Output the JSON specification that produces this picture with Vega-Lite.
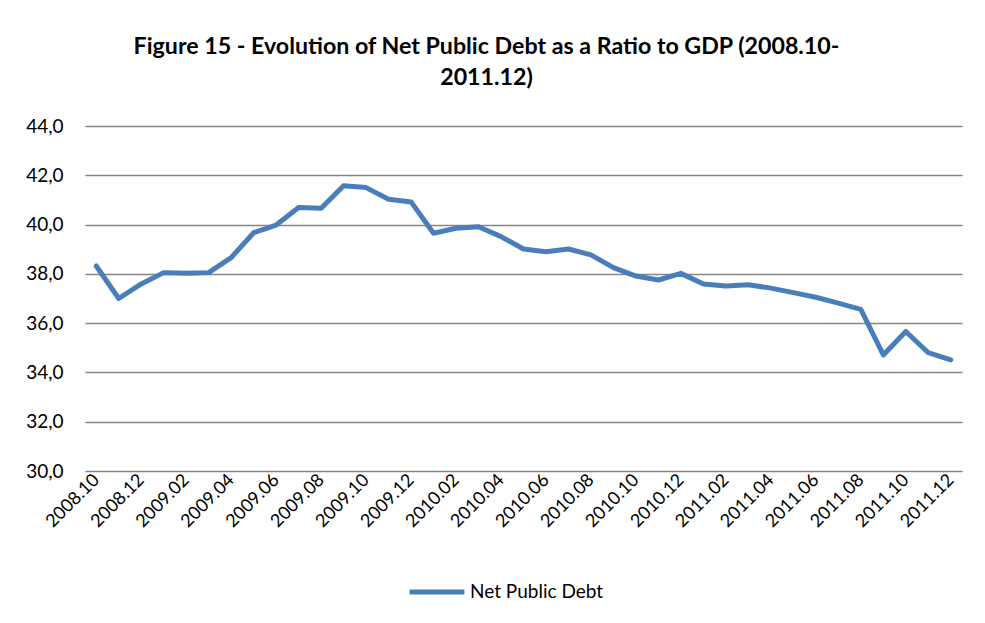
{
  "$schema": "https://vega.github.io/schema/vega-lite/v6.json",
  "width": 877,
  "height": 345,
  "autosize": {"type": "none"},
  "padding": {"left": 85, "top": 126, "right": 23, "bottom": 152},
  "background": "white",
  "title": {
    "text": ["Figure 15 - Evolution of Net Public Debt as a Ratio to GDP (2008.10-", "2011.12)"],
    "font": "Lato",
    "fontSize": 23.2,
    "fontWeight": "bold",
    "color": "black",
    "anchor": "middle",
    "dx": -37,
    "offset": 27,
    "lineHeight": 31
  },
  "data": {
    "values": [
      {"month": "2008.10", "value": 38.32},
      {"month": "2008.11", "value": 37.0},
      {"month": "2008.12", "value": 37.59},
      {"month": "2009.01", "value": 38.05},
      {"month": "2009.02", "value": 38.02},
      {"month": "2009.03", "value": 38.05},
      {"month": "2009.04", "value": 38.66},
      {"month": "2009.05", "value": 39.67},
      {"month": "2009.06", "value": 39.98},
      {"month": "2009.07", "value": 40.69},
      {"month": "2009.08", "value": 40.66},
      {"month": "2009.09", "value": 41.58},
      {"month": "2009.10", "value": 41.5},
      {"month": "2009.11", "value": 41.03},
      {"month": "2009.12", "value": 40.92},
      {"month": "2010.01", "value": 39.65},
      {"month": "2010.02", "value": 39.85},
      {"month": "2010.03", "value": 39.91},
      {"month": "2010.04", "value": 39.51},
      {"month": "2010.05", "value": 39.01},
      {"month": "2010.06", "value": 38.9},
      {"month": "2010.07", "value": 39.01},
      {"month": "2010.08", "value": 38.77},
      {"month": "2010.09", "value": 38.25},
      {"month": "2010.10", "value": 37.91},
      {"month": "2010.11", "value": 37.75},
      {"month": "2010.12", "value": 38.02},
      {"month": "2011.01", "value": 37.59},
      {"month": "2011.02", "value": 37.51},
      {"month": "2011.03", "value": 37.56},
      {"month": "2011.04", "value": 37.42},
      {"month": "2011.05", "value": 37.24},
      {"month": "2011.06", "value": 37.05},
      {"month": "2011.07", "value": 36.81},
      {"month": "2011.08", "value": 36.56},
      {"month": "2011.09", "value": 34.71},
      {"month": "2011.10", "value": 35.66},
      {"month": "2011.11", "value": 34.8},
      {"month": "2011.12", "value": 34.51}
    ]
  },
  "mark": {"type": "line", "strokeWidth": 5, "strokeCap": "round", "strokeJoin": "round"},
  "encoding": {
    "x": {
      "field": "month",
      "type": "ordinal",
      "sort": null,
      "scale": {"type": "point", "padding": 0.5},
      "axis": {
        "title": null,
        "values": ["2008.10","2008.12","2009.02","2009.04","2009.06","2009.08","2009.10","2009.12","2010.02","2010.04","2010.06","2010.08","2010.10","2010.12","2011.02","2011.04","2011.06","2011.08","2011.10","2011.12"],
        "labelAngle": -45,
        "labelAlign": "right",
        "labelBaseline": "middle",
        "labelFont": "Lato",
        "labelFontSize": 18,
        "labelColor": "black",
        "labelPadding": 6,
        "labelOverlap": false,
        "ticks": false,
        "domain": false,
        "grid": false
      }
    },
    "y": {
      "field": "value",
      "type": "quantitative",
      "scale": {"domain": [30, 44], "nice": false, "zero": false},
      "axis": {
        "title": null,
        "values": [30, 32, 34, 36, 38, 40, 42, 44],
        "labelExpr": "replace(format(datum.value, '.1f'), '.', ',')",
        "labelFont": "Lato",
        "labelFontSize": 19,
        "labelColor": "black",
        "labelPadding": 22,
        "ticks": false,
        "domain": false,
        "grid": true,
        "gridColor": "#868686",
        "gridWidth": 1.5
      }
    },
    "color": {
      "datum": "Net Public Debt",
      "scale": {"range": ["#4A7EBB"]},
      "legend": {
        "title": null,
        "orient": "none",
        "legendX": 322,
        "legendY": 436,
        "symbolType": "stroke",
        "symbolSize": 3000,
        "symbolStrokeWidth": 5,
        "labelFont": "Lato",
        "labelFontSize": 19,
        "labelColor": "black",
        "labelOffset": 3
      }
    }
  },
  "config": {"view": {"stroke": null}}
}
